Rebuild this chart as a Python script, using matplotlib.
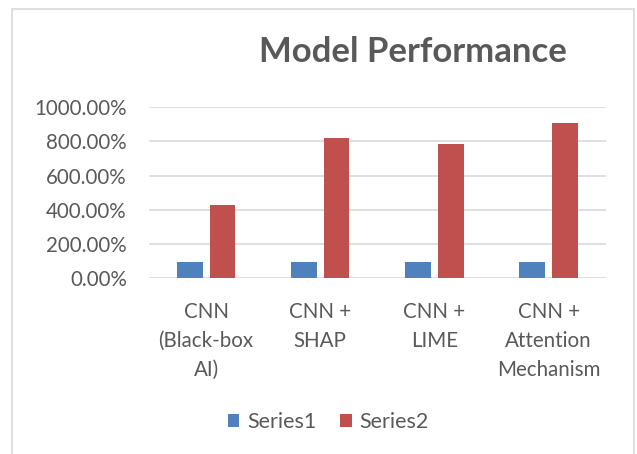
import matplotlib
matplotlib.use("Agg")
import matplotlib.pyplot as plt
import numpy as np
from matplotlib.patches import Rectangle
from matplotlib.ticker import FuncFormatter

plt.rcParams['font.family'] = ['Lato', 'DejaVu Sans']

# chart data (percent)
categories = ["CNN\n(Black-box\nAI)", "CNN +\nSHAP", "CNN +\nLIME", "CNN +\nAttention\nMechanism"]
series1 = [94, 94, 94, 97]
series2 = [427, 819, 787, 906]
series_names = ["Series1", "Series2"]

TEXT = '#595959'
GRID = '#D9D9D9'
BLUE = '#4F81BD'
RED = '#C0504D'

W, H = 637, 454
fig = plt.figure(figsize=(W / 100, H / 100), dpi=100)

# chart border (bottom edge falls outside the picture)
fig.patches.append(Rectangle((12 / W, -0.05), (634 - 12) / W, 1.05 - 9 / H,
                             transform=fig.transFigure, fill=False,
                             edgecolor=GRID, linewidth=1.2))

ax = fig.add_axes([149 / W, 1 - 278.3 / H, (605.7 - 149) / W, (278.3 - 107.3) / H])

x = np.arange(len(categories))
width = 0.225
ax.bar(x - 0.143, series1, width, color=BLUE, label=series_names[0], zorder=3)
ax.bar(x + 0.143, series2, width, color=RED, label=series_names[1], zorder=3)

ax.set_xlim(-0.5, len(categories) - 0.5)
ax.set_ylim(0, 1000)
ax.set_yticks(np.arange(0, 1001, 200))
ax.yaxis.set_major_formatter(FuncFormatter(lambda v, p: f"{v:.2f}%"))
ax.grid(axis='y', color=GRID, linewidth=1.2, zorder=0)
for s in ax.spines.values():
    s.set_visible(False)
ax.tick_params(axis='both', length=0, colors=TEXT, labelsize=14.8)
ax.tick_params(axis='y', pad=16)
ax.tick_params(axis='x', pad=17)

ax.set_xticks(x)
ax.set_xticklabels(categories, linespacing=1.56, va='top')

fig.text(413 / W, 1 - 52 / H, "Model Performance", ha='center', va='center',
         fontsize=25, fontweight='bold', color=TEXT)

ax.legend(loc='center', bbox_to_anchor=(328 / W, 1 - 422 / H),
          bbox_transform=fig.transFigure, ncol=2, frameon=False,
          fontsize=15.5, labelcolor=TEXT, handlelength=0.55, handleheight=0.6,
          handletextpad=0.35, columnspacing=1.1)

fig.savefig("out.png", dpi=100, facecolor='white')
